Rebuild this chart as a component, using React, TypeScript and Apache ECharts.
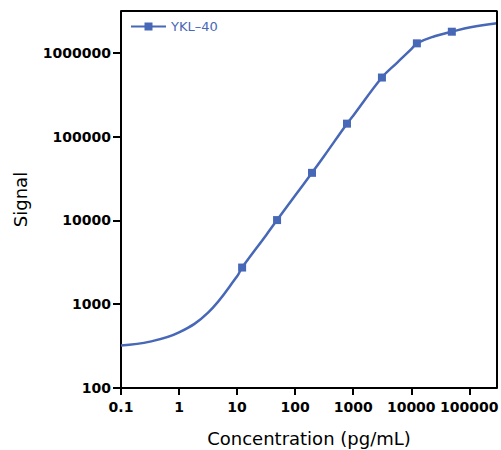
import React, { useEffect, useRef } from "react";
import * as echarts from "echarts";

// Measured standards (pg/mL) and their signals
const concentrations = [12.2, 48.8, 195, 781, 3125, 12500, 50000];
const signals = [2740, 10100, 37000, 143000, 508000, 1300000, 1790000];

const curveConc = [0.1, 0.316, 1, 3.16, 10, 31.6, 100, 316, 1000, 5740, 10000, 25200, 105000, 300000];
const curveSignal = [322, 358, 460, 792, 2150, 6670, 19800, 58800, 177800, 767000, 1107000, 1580000, 2020000, 2260000];

const xTickValues = [0.1, 1, 10, 100, 1000, 10000, 100000];
const xTickLabels = ["0.1", "1", "10", "100", "1000", "10000", "100000"];
const yTickValues = [100, 1000, 10000, 100000, 1000000];
const yTickLabels = ["100", "1000", "10000", "100000", "1000000"];

const xMin = 0.1;
const xMax = 300000;
const yMin = 100;
const yMax = Math.pow(10, 6.5);

const seriesName = "YKL–40";
const BLUE = "#4767b7";
const FONT = "DejaVu Sans";

export default function App() {
  const ref = useRef<HTMLDivElement>(null);
  useEffect(() => {
    if (!ref.current) return;
    const chart = echarts.init(ref.current, null, { renderer: "svg" });

    const pts: { value: [number, number]; symbol: string }[] = [];
    concentrations.forEach((c, i) => pts.push({ value: [c, signals[i]], symbol: "rect" }));
    curveConc.forEach((c, i) => pts.push({ value: [c, curveSignal[i]], symbol: "none" }));
    pts.sort((a, b) => a.value[0] - b.value[0]);

    const xLabel = (v: number) => {
      const i = xTickValues.findIndex((t) => Math.abs(Math.log10(t) - Math.log10(v)) < 1e-6);
      return i >= 0 ? xTickLabels[i] : "";
    };
    const yLabel = (v: number) => {
      const i = yTickValues.findIndex((t) => Math.abs(Math.log10(t) - Math.log10(v)) < 1e-6);
      return i >= 0 ? yTickLabels[i] : "";
    };

    chart.setOption({
      animation: false,
      grid: {
        left: 121,
        right: 4,
        top: 11,
        bottom: 62,
        containLabel: false,
        outerBoundsMode: "none",
      },
      legend: {
        data: [seriesName],
        left: 125,
        top: 15,
        itemWidth: 35,
        itemHeight: 10,
        textStyle: { color: BLUE, fontFamily: FONT, fontSize: 13 },
      },
      xAxis: {
        type: "log",
        logBase: 10,
        min: xMin,
        max: xMax,
        name: "Concentration (pg/mL)",
        nameLocation: "middle",
        nameGap: 41,
        nameTextStyle: { fontFamily: FONT, fontSize: 18, color: "#000" },
        axisLine: { show: true, lineStyle: { color: "#000", width: 2 } },
        axisTick: { show: true, length: 7, lineStyle: { color: "#000", width: 2 }, customValues: xTickValues },
        axisLabel: {
          margin: 12,
          fontFamily: FONT,
          fontSize: 14,
          fontWeight: "bold",
          color: "#000",
          customValues: xTickValues,
          formatter: xLabel,
        },
        splitLine: { show: false },
        minorTick: { show: false },
      },
      yAxis: {
        type: "log",
        logBase: 10,
        min: yMin,
        max: yMax,
        name: "Signal",
        nameLocation: "middle",
        nameGap: 92,
        nameTextStyle: { fontFamily: FONT, fontSize: 18, color: "#000" },
        axisLine: { show: true, lineStyle: { color: "#000", width: 2 } },
        axisTick: { show: true, length: 8, lineStyle: { color: "#000", width: 2 }, customValues: yTickValues },
        axisLabel: {
          margin: 10,
          fontFamily: FONT,
          fontSize: 14,
          fontWeight: "bold",
          color: "#000",
          customValues: yTickValues,
          formatter: yLabel,
        },
        splitLine: { show: false },
      },
      series: [
        {
          name: "frame",
          type: "line",
          data: [
            [xMin, yMax],
            [xMax, yMax],
            [xMax, yMin],
          ],
          clip: false,
          silent: true,
          symbol: "none",
          lineStyle: { color: "#000", width: 2 },
          z: 5,
        },
        {
          name: seriesName,
          type: "line",
          data: pts,
          smooth: 0.4,
          clip: false,
          symbol: "rect",
          symbolSize: 8,
          showAllSymbol: true,
          color: BLUE,
          lineStyle: { color: BLUE, width: 2.5 },
          itemStyle: { color: BLUE },
        },
      ],
    });
    return () => chart.dispose();
  }, []);
  return (
    <div
      ref={ref}
      style={{ position: "fixed", left: 0, top: 0, width: 501, height: 450, background: "#fff" }}
    />
  );
}
